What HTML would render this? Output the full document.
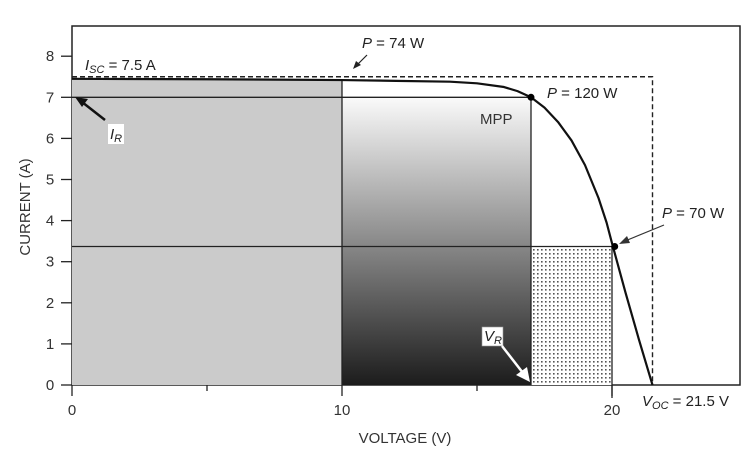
<!DOCTYPE html>
<html><head><meta charset="utf-8"><style>
body{margin:0;background:#fff;}
svg{display:block;font-family:"Liberation Sans",Arial,sans-serif;}
</style></head><body>
<svg id="chart" width="753" height="455" viewBox="0 0 753 455">
<defs>
<linearGradient id="grad" x1="0" y1="0" x2="0" y2="1"><stop offset="0" stop-color="#fafafa"/><stop offset="1" stop-color="#1c1c1c"/></linearGradient>
<pattern id="dots" width="4" height="4" patternUnits="userSpaceOnUse"><rect width="4" height="4" fill="#fff"/><rect x="1" y="1" width="1.6" height="1.6" fill="#555"/></pattern>
</defs>
<g id="layer"></g>
</svg>
<script>
const curveV = [0, 5, 10, 12, 14, 15, 16, 16.5, 17, 17.5, 18, 18.5, 19, 19.5, 19.8, 20, 20.5, 21, 21.5];
const curveI = [7.45, 7.44, 7.42, 7.4, 7.38, 7.34, 7.25, 7.15, 7.0, 6.75, 6.4, 5.95, 5.35, 4.55, 3.95, 3.45, 2.25, 1.1, 0];
const yTicks = [0,1,2,3,4,5,6,7,8];
const xTicks = [0,5,10,15,20];
const xLabels = ["0","","10","","20"];
const isc = 7.5, voc = 21.5;
const mppV = 17, mppI = 7.0;
const p70V = 20.1, p70I = 3.37;
const leftV = 10;

const NS="http://www.w3.org/2000/svg";
const g=document.getElementById('layer');
const X=v=>72+v*27, Y=i=>385-i*41.1;
function el(t,a,parent){const e=document.createElementNS(NS,t);for(const k in a)e.setAttribute(k,a[k]);(parent||g).appendChild(e);return e;}
function curveAt(v){for(let k=0;k<curveV.length-1;k++){if(v>=curveV[k]&&v<=curveV[k+1]){const t=(v-curveV[k])/(curveV[k+1]-curveV[k]);return curveI[k]+t*(curveI[k+1]-curveI[k]);}}return 0;}

let e=el('rect',{x:72,y:26,width:668,height:359,fill:'none',stroke:'#222','stroke-width':1.5});


let pts=[];for(let k=0;k<curveV.length&&curveV[k]<=leftV;k++)pts.push(X(curveV[k])+','+Y(curveI[k]));
e=el('polygon',{points:X(0)+','+Y(0)+' '+pts.join(' ')+' '+X(leftV)+','+Y(0),fill:'#cbcbcb'});

e=el('rect',{x:X(leftV),y:Y(mppI),width:X(mppV)-X(leftV),height:Y(0)-Y(mppI),fill:'url(#grad)'});

e=el('rect',{x:X(mppV),y:Y(p70I),width:X(20)-X(mppV),height:Y(0)-Y(p70I),fill:'url(#dots)'});


const L=(x1,y1,x2,y2,n,w)=>{const l=el('line',{x1,y1,x2,y2,stroke:'#222','stroke-width':w||1.3});return l;};
L(X(0),Y(mppI),X(mppV),Y(mppI),'mpp-current-line');
L(X(0),Y(p70I),X(p70V),Y(p70I),'p70-current-line');
L(X(leftV),Y(0),X(leftV),Y(curveAt(leftV)),'v10-line');
L(X(mppV),Y(0),X(mppV),Y(mppI),'mpp-voltage-line');
L(X(20),Y(p70I),X(20),Y(0)+13,'v20-line');
e=el('polyline',{points:X(0)+','+Y(isc)+' '+X(voc)+','+Y(isc)+' '+X(voc)+','+Y(0),fill:'none',stroke:'#222','stroke-width':1.4,'stroke-dasharray':'5,3'});

e=el('polyline',{points:curveV.map((v,k)=>X(v)+','+Y(curveI[k])).join(' '),fill:'none',stroke:'#111','stroke-width':2.2,'stroke-linejoin':'round'});

e=el('circle',{cx:X(mppV),cy:Y(mppI),r:3.5,fill:'#000'});
e=el('circle',{cx:X(p70V),cy:Y(p70I),r:3.5,fill:'#000'});

yTicks.forEach(t=>{
 const l=el('line',{x1:61,y1:Y(t),x2:72,y2:Y(t),stroke:'#222','stroke-width':1.3});
 
 const tx=el('text',{x:50,y:Y(t)+5,'font-size':15,'text-anchor':'middle',fill:'#333'});tx.textContent=t;
 
});
xTicks.forEach((t,k)=>{
 const big=xLabels[k]!=='';
 const l=el('line',{x1:X(t),y1:385,x2:X(t),y2:big?396:391,stroke:'#222','stroke-width':1.3});
 
 if(big){const tx=el('text',{x:X(t),y:415,'font-size':15,'text-anchor':'middle',fill:'#333'});tx.textContent=xLabels[k];
 }
});
</script>
<svg width="753" height="455" style="position:absolute;left:0;top:0">
<text x="405" y="443" font-size="15" text-anchor="middle" fill="#333" font-family="Liberation Sans,sans-serif">VOLTAGE (V)</text>
<text transform="translate(30,207) rotate(-90)" font-size="15" text-anchor="middle" fill="#333" font-family="Liberation Sans,sans-serif">CURRENT (A)</text>
<g font-family="Liberation Sans,sans-serif" fill="#222" font-size="15">
<text x="85" y="70"><tspan font-style="italic">I</tspan><tspan font-style="italic" font-size="11" dy="3">SC</tspan><tspan dy="-3"> = 7.5 A</tspan></text>
<text x="362" y="48"><tspan font-style="italic">P</tspan> = 74 W</text>
<line x1="367" y1="55" x2="356" y2="66" stroke="#222" stroke-width="1.2"/>
<polygon points="353,69 356,61 361,65" fill="#222"/>
<text x="547" y="98"><tspan font-style="italic">P</tspan> = 120 W</text>
<text x="480" y="124" fill="#333">MPP</text>
<text x="662" y="218"><tspan font-style="italic">P</tspan> = 70 W</text>
<line x1="664" y1="225" x2="625" y2="241" stroke="#333" stroke-width="1.2"/>
<polygon points="619,244 627,236 630,243" fill="#333"/>
<text x="642" y="406"><tspan font-style="italic">V</tspan><tspan font-style="italic" font-size="11" dy="3">OC</tspan><tspan dy="-3"> = 21.5 V</tspan></text>
<rect x="108" y="124" width="16" height="20" fill="#fff"/>
<text x="110" y="139" font-style="italic">I<tspan font-size="11" dy="3">R</tspan></text>
<line x1="105" y1="120" x2="82" y2="102" stroke="#111" stroke-width="2.5"/>
<polygon points="75,97 88,99 82,107" fill="#111"/>
<rect x="482" y="327" width="21" height="19" fill="#fff" stroke="#999" stroke-width="0.6"/>
<text x="484" y="341" font-style="italic">V<tspan font-size="11" dy="3">R</tspan></text>
<line x1="502" y1="346" x2="523" y2="373" stroke="#fff" stroke-width="2.5"/>
<polygon points="530,382 516,375 527,367" fill="#fff"/>
</g>
</svg>
</body></html>
